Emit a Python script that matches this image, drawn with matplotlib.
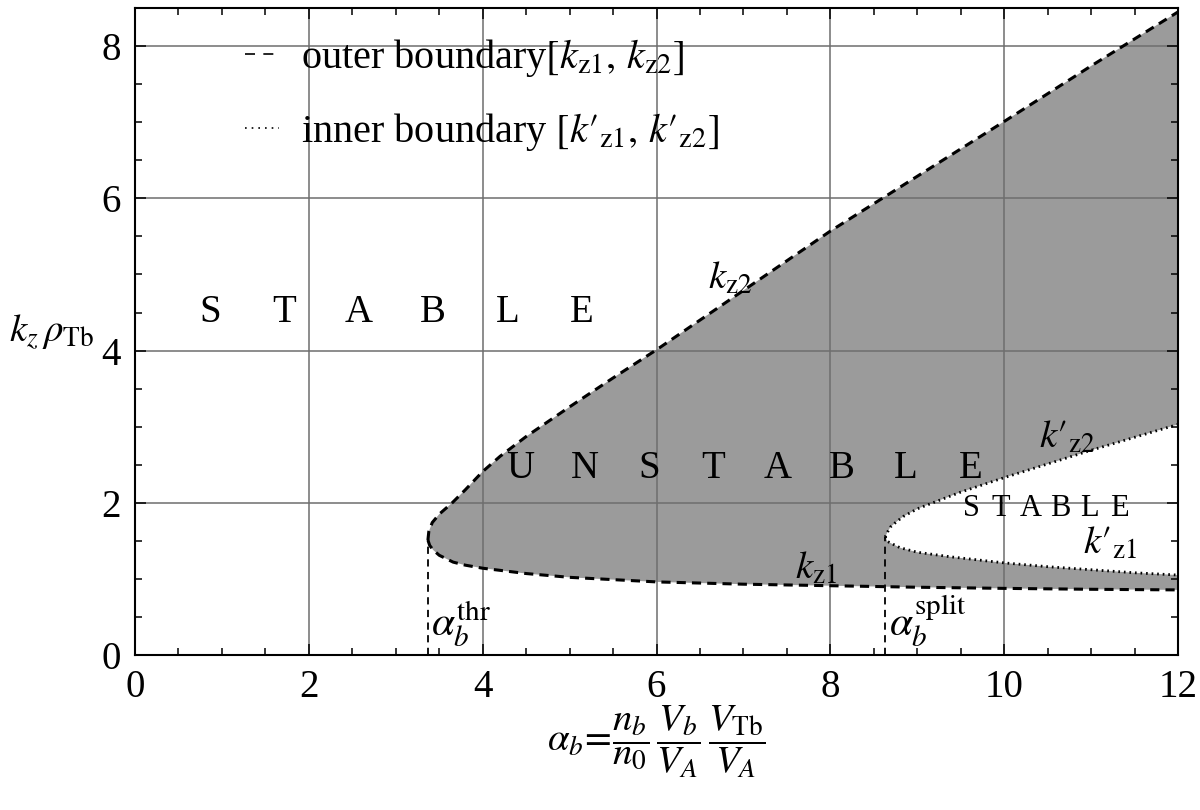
import numpy as np
import matplotlib
matplotlib.use("Agg")
import matplotlib.pyplot as plt
from matplotlib.lines import Line2D
from matplotlib.ticker import MultipleLocator

plt.rcParams["font.family"] = ["Liberation Serif", "DejaVu Serif"]
plt.rcParams["mathtext.fontset"] = "stix"

# outer boundary, upper branch k_z2
alpha_up = [3.37, 3.38, 3.42, 3.50, 3.60, 3.65, 3.80, 3.90, 4.0, 4.2, 4.5, 5.0, 5.5, 6.0,
            7.0, 8.0, 9.0, 10.0, 11.0, 12.0]
kz2 = [1.51, 1.62, 1.74, 1.85, 1.95, 2.00, 2.17, 2.29, 2.41, 2.61, 2.87, 3.26, 3.64, 4.01,
       4.79, 5.57, 6.29, 7.01, 7.74, 8.45]

# outer boundary, lower branch k_z1
alpha_lo = [3.37, 3.39, 3.43, 3.50, 3.66, 3.80, 4.0, 4.5, 5.0, 6.0, 7.0, 8.0, 9.0, 10.0, 11.0, 12.0]
kz1 = [1.51, 1.44, 1.38, 1.31, 1.22, 1.18, 1.14, 1.07, 1.02, 0.96, 0.93, 0.91, 0.89, 0.875, 0.863, 0.855]

# inner boundary, upper branch k'_z2
alpha_in_up = [8.63, 8.66, 8.69, 8.76, 8.84, 9.0, 9.18, 9.5, 10.0, 10.5, 11.0, 11.5, 12.0]
kz2p = [1.55, 1.62, 1.68, 1.75, 1.82, 1.92, 2.00, 2.14, 2.33, 2.51, 2.69, 2.86, 3.03]

# inner boundary, lower branch k'_z1
alpha_in_lo = [8.63, 8.66, 8.73, 8.80, 9.0, 9.38, 10.0, 10.5, 11.0, 11.5, 12.0]
kz1p = [1.55, 1.49, 1.45, 1.41, 1.35, 1.29, 1.21, 1.16, 1.12, 1.08, 1.05]

alpha_thr = alpha_up[0]
alpha_split = alpha_in_up[0]

fs = 28
fig = plt.figure(figsize=(12, 8.1), dpi=100)
ax = fig.add_axes([0.1125, 0.1914, 0.8692, 0.7986])

# shaded unstable region with the inner stable hole
ax.fill(np.r_[alpha_up, alpha_lo[::-1]], np.r_[kz2, kz1[::-1]],
        color="#9b9b9b", lw=0, zorder=0.5)
ax.fill(np.r_[alpha_in_up, alpha_in_lo[::-1]], np.r_[kz2p, kz1p[::-1]],
        color="white", lw=0, zorder=0.6)

ax.plot(alpha_up, kz2, "k", ls=(0, (3, 2)), lw=2.2, zorder=3)
ax.plot(alpha_lo, kz1, "k", ls=(0, (3, 2)), lw=2.2, zorder=3)
ax.plot(alpha_in_up, kz2p, "k", ls=(0, (0.6, 1.4)), lw=2.0, zorder=3)
ax.plot(alpha_in_lo, kz1p, "k", ls=(0, (0.6, 1.4)), lw=2.0, zorder=3)
ax.vlines([alpha_thr, alpha_split], 0, [kz2[0], kz2p[0]], colors="k",
          linestyles=(0, (4, 3)), lw=1.3, zorder=3)

ax.set_xlim(0, 12)
ax.set_ylim(0, 8.5)
ax.xaxis.set_major_locator(MultipleLocator(2))
ax.yaxis.set_major_locator(MultipleLocator(2))
ax.xaxis.set_minor_locator(MultipleLocator(0.5))
ax.yaxis.set_minor_locator(MultipleLocator(0.5))
ax.set_axisbelow("line")
ax.grid(True, which="major", color="#6e6e6e", lw=1.1)
ax.tick_params(which="both", direction="in", top=True, right=True,
               labelsize=fs, width=1.1, pad=10)
ax.tick_params(which="major", length=8)
ax.tick_params(which="minor", length=5)
for s in ax.spines.values():
    s.set_linewidth(1.5)

ax.set_ylabel(r"$k_z\,\rho_{\mathrm{Tb}}$", fontsize=fs, rotation=0,
              ha="center", va="center")
ax.yaxis.set_label_coords(-0.08, 0.5)
ax.set_xlabel(r"$\alpha_b\!=\!\dfrac{n_b}{n_0}\,\dfrac{V_b}{V_A}\,\dfrac{V_{\mathrm{Tb}}}{V_A}$",
              fontsize=fs, va="center")
ax.xaxis.set_label_coords(0.5, -0.135)

# region labels
for i, ch in enumerate("STABLE"):
    ax.text(0.86 + i * 0.856, 4.5, ch, fontsize=fs, ha="center", va="center")
for i, ch in enumerate("UNSTABLE"):
    ax.text(4.43 + i * 0.74, 2.45, ch, fontsize=fs, ha="center", va="center")
for i, ch in enumerate("STABLE"):
    ax.text(9.62 + i * 0.34, 1.93, ch, fontsize=22, ha="center", va="center")

# curve labels
kp1 = "$k\u2032_{\\mathrm{z1}}$"
kp2 = "$k\u2032_{\\mathrm{z2}}$"
ax.text(6.85, 4.93, r"$k_{\mathrm{z2}}$", fontsize=fs, ha="center", va="center")
ax.text(7.83, 1.12, r"$k_{\mathrm{z1}}$", fontsize=fs, ha="center", va="center")
ax.text(10.72, 2.85, kp2, fontsize=fs, ha="center", va="center")
ax.text(11.22, 1.45, kp1, fontsize=fs, ha="center", va="center")
ax.text(alpha_thr + 0.04, 0.08, r"$\alpha_b^{\mathrm{thr}}$", fontsize=fs + 2,
        ha="left", va="bottom")
ax.text(alpha_split + 0.04, 0.08, r"$\alpha_b^{\mathrm{split}}$", fontsize=fs + 2,
        ha="left", va="bottom")

handles = [Line2D([], [], color="k", lw=1.2, ls=(0, (6, 5))),
           Line2D([], [], color="k", lw=1.2, ls=(0, (1, 3)))]
labels = [r"outer boundary$[k_{\mathrm{z1}},\, k_{\mathrm{z2}}]$",
          "inner boundary $[k\u2032_{\\mathrm{z1}},\\, k\u2032_{\\mathrm{z2}}]$"]
ax.legend(handles, labels, loc="upper left", bbox_to_anchor=(0.105, 0.955),
          frameon=False, fontsize=fs + 1, handlelength=0.85, handletextpad=0.55,
          labelspacing=0.78, borderpad=0, borderaxespad=0)

fig.savefig("out.png", dpi=100)
